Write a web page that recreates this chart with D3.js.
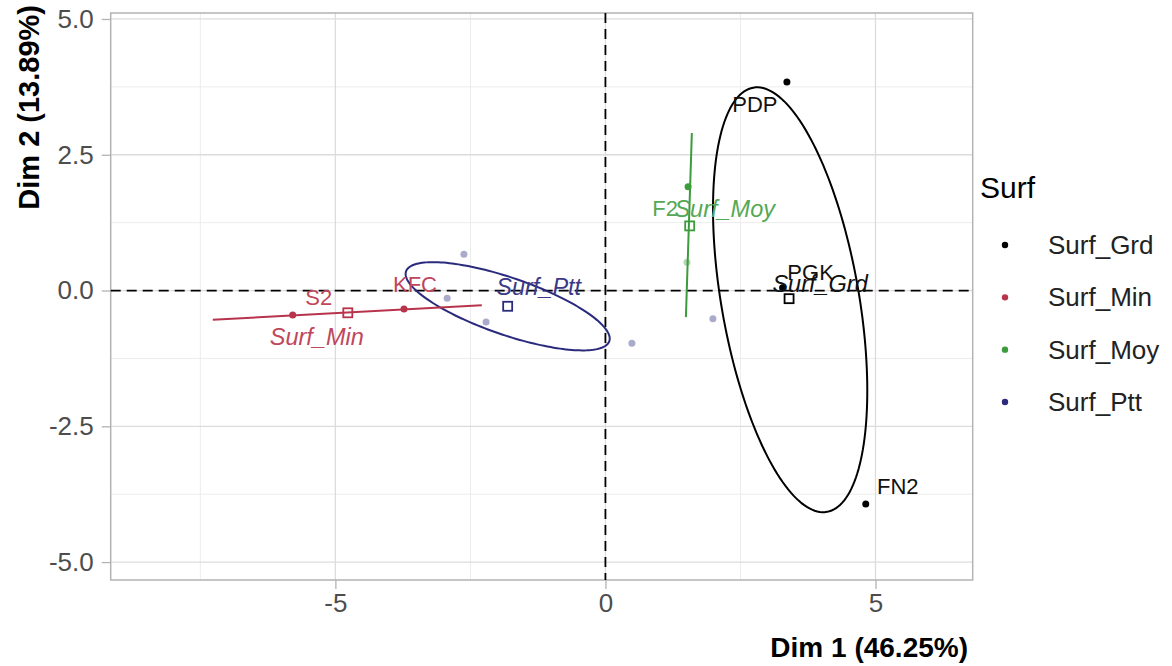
<!DOCTYPE html>
<html>
<head>
<meta charset="utf-8">
<script src="https://cdn.jsdelivr.net/npm/d3@7"></script>
<style>
  html, body { margin: 0; padding: 0; background: #ffffff; }
  svg { display: block; font-family: "Liberation Sans", Arial, sans-serif; }
</style>
</head>
<body>
<svg id="chart" width="1172" height="666"></svg>
<script>
// ---------------- DATA ----------------
const groups = ["Surf_Grd", "Surf_Min", "Surf_Moy", "Surf_Ptt"];

// individuals (Dim 1, Dim 2)
const indNames = ["PDP", "PGK", "FN2", "S2", "KFC", "F2", "", "", "", "", "", ""];
const indX = [3.36, 3.28, 4.82, -5.79, -3.73, 1.53, 1.51, -2.62, -2.93, -2.21, 0.49, 1.99];
const indY = [3.84, 0.05, -3.93, -0.45, -0.34, 1.91, 0.52, 0.67, -0.14, -0.58, -0.97, -0.52];
const indGroup = ["Surf_Grd", "Surf_Grd", "Surf_Grd", "Surf_Min", "Surf_Min", "Surf_Moy",
                  "Surf_Moy", "Surf_Ptt", "Surf_Ptt", "Surf_Ptt", "Surf_Ptt", "Surf_Ptt"];

// group barycentres
const meanX = [3.40, -4.77, 1.56, -1.81];
const meanY = [-0.15, -0.41, 1.19, -0.29];

// concentration ellipses: centre + covariance (xx, xy, yy)
const ellGroups = ["Surf_Grd", "Surf_Ptt"];
const ellCX = [3.42, -1.81];
const ellCY = [-0.17, -0.29];
const ellCov = [[2.04, -2.39, 15.3], [3.57, -1.125, 0.66]];

// degenerate ellipses (two-member groups) drawn as segments
const segGroups = ["Surf_Min", "Surf_Moy"];
const segX1 = [-7.27, 1.60], segY1 = [-0.54, 2.90];
const segX2 = [-2.29, 1.49], segY2 = [-0.27, -0.49];

// axes
const xTicks = [-5, 0, 5];
const yTicks = [-5, -2.5, 0, 2.5, 5];
const xMinor = [-7.5, -2.5, 2.5];
const yMinor = [-3.75, -1.25, 1.25, 3.75];
const xDomain = [-9.16, 6.80];
const yDomain = [-5.33, 5.11];
const xTitle = "Dim 1 (46.25%)";
const yTitle = "Dim 2 (13.89%)";
const legendTitle = "Surf";

// ---------------- STYLE ----------------
const colors = { Surf_Grd: "#000000", Surf_Min: "#b8334c", Surf_Moy: "#3c9c3c", Surf_Ptt: "#2b2b7e" };
const textColors = { Surf_Grd: "#111111", Surf_Min: "#c0465a", Surf_Moy: "#55a855", Surf_Ptt: "#3a3a88" };
// label offsets in px (like repelled text)
const indLabelOff = [[-32, 23], [28, -15], [32, -17], [26, -17], [11, -24], [-23, 22]];
const meanLabelOff = [[31, -15], [-31, 24], [35, -17], [31, -19]];

const svg = d3.select("#chart");
const P = { left: 110.7, right: 972.7, top: 13, bottom: 580 };

const x = d3.scaleLinear().domain(xDomain).range([P.left, P.right]);
const y = d3.scaleLinear().domain(yDomain).range([P.bottom, P.top]);

svg.append("rect").attr("width", 1172).attr("height", 666).attr("fill", "#ffffff");

// grid
const grid = svg.append("g");
grid.selectAll(".xm").data(xMinor).join("line")
  .attr("x1", d => x(d)).attr("x2", d => x(d)).attr("y1", P.top).attr("y2", P.bottom)
  .attr("stroke", "#ececec").attr("stroke-width", 1);
grid.selectAll(".ym").data(yMinor).join("line")
  .attr("y1", d => y(d)).attr("y2", d => y(d)).attr("x1", P.left).attr("x2", P.right)
  .attr("stroke", "#ececec").attr("stroke-width", 1);
grid.selectAll(".xM").data(xTicks).join("line")
  .attr("x1", d => x(d)).attr("x2", d => x(d)).attr("y1", P.top).attr("y2", P.bottom)
  .attr("stroke", "#dcdcdc").attr("stroke-width", 1.3);
grid.selectAll(".yM").data(yTicks).join("line")
  .attr("y1", d => y(d)).attr("y2", d => y(d)).attr("x1", P.left).attr("x2", P.right)
  .attr("stroke", "#dcdcdc").attr("stroke-width", 1.3);

// axes (plain hyphen for negatives, as in the reference)
const hy = f => d => f(d).replace("\u2212", "-");
const xAxis = d3.axisBottom(x).tickValues(xTicks).tickFormat(hy(d3.format("d"))).tickSize(9).tickPadding(5);
const yAxis = d3.axisLeft(y).tickValues(yTicks).tickFormat(hy(d3.format(".1f"))).tickSize(9).tickPadding(8);
const gx = svg.append("g").attr("transform", `translate(0,${P.bottom})`).call(xAxis);
const gy = svg.append("g").attr("transform", `translate(${P.left},0)`).call(yAxis);
[gx, gy].forEach(g => {
  g.select(".domain").remove();
  g.selectAll(".tick line").attr("stroke", "#b3b3b3").attr("stroke-width", 1.3);
  g.selectAll(".tick text").attr("fill", "#4d4d4d").attr("font-size", 26)
    .attr("font-family", "Liberation Sans, Arial, sans-serif");
});

// panel border
svg.append("rect").attr("x", P.left).attr("y", P.top)
  .attr("width", P.right - P.left).attr("height", P.bottom - P.top)
  .attr("fill", "none").attr("stroke", "#b3b3b3").attr("stroke-width", 1.5);

// dashed origin lines
svg.append("line").attr("x1", x(0)).attr("x2", x(0)).attr("y1", P.top).attr("y2", P.bottom)
  .attr("stroke", "#000").attr("stroke-width", 1.8).attr("stroke-dasharray", "10,6");
svg.append("line").attr("y1", y(0)).attr("y2", y(0)).attr("x1", P.left).attr("x2", P.right)
  .attr("stroke", "#000").attr("stroke-width", 1.8).attr("stroke-dasharray", "10,6");

// ellipses
const ellLine = d3.line().x(d => x(d[0])).y(d => y(d[1])).curve(d3.curveLinearClosed);
ellGroups.forEach((g, i) => {
  const [sxx, sxy, syy] = ellCov[i];
  const tr = (sxx + syy) / 2, df = Math.sqrt(((sxx - syy) / 2) ** 2 + sxy * sxy);
  const l1 = tr + df, l2 = Math.max(tr - df, 0);
  const th = 0.5 * Math.atan2(2 * sxy, sxx - syy);
  const pts = d3.range(0, 2 * Math.PI, Math.PI / 90).map(t => {
    const u = Math.sqrt(l1) * Math.cos(t), v = Math.sqrt(l2) * Math.sin(t);
    return [ellCX[i] + u * Math.cos(th) - v * Math.sin(th), ellCY[i] + u * Math.sin(th) + v * Math.cos(th)];
  });
  svg.append("path").attr("d", ellLine(pts)).attr("fill", "none")
    .attr("stroke", colors[g]).attr("stroke-width", 2);
});
segGroups.forEach((g, i) => {
  svg.append("line").attr("x1", x(segX1[i])).attr("y1", y(segY1[i]))
    .attr("x2", x(segX2[i])).attr("y2", y(segY2[i]))
    .attr("stroke", colors[g]).attr("stroke-width", 2);
});

// individuals
const inds = indX.map((v, i) => ({ name: indNames[i], x: v, y: indY[i], g: indGroup[i] }));
svg.append("g").selectAll("circle").data(inds).join("circle")
  .attr("cx", d => x(d.x)).attr("cy", d => y(d.y)).attr("r", 3.5)
  .attr("fill", d => colors[d.g]).attr("opacity", d => d.name ? 1 : 0.4);

// group means (open squares)
svg.append("g").selectAll("rect").data(groups).join("rect")
  .attr("x", (g, i) => x(meanX[i]) - 4.5).attr("y", (g, i) => y(meanY[i]) - 4.5)
  .attr("width", 9).attr("height", 9).attr("fill", "none")
  .attr("stroke", g => colors[g]).attr("stroke-width", 1.8);

// individual labels
svg.append("g").selectAll("text").data(inds.filter(d => d.name)).join("text")
  .attr("x", (d, i) => x(d.x) + indLabelOff[i][0])
  .attr("y", (d, i) => y(d.y) + indLabelOff[i][1])
  .attr("text-anchor", "middle").attr("dominant-baseline", "central")
  .attr("font-size", 22).attr("fill", d => textColors[d.g]).text(d => d.name);

// mean labels
svg.append("g").selectAll("text").data(groups).join("text")
  .attr("x", (g, i) => x(meanX[i]) + meanLabelOff[i][0])
  .attr("y", (g, i) => y(meanY[i]) + meanLabelOff[i][1])
  .attr("text-anchor", "middle").attr("dominant-baseline", "central")
  .attr("font-size", 23.5).attr("font-style", "italic")
  .attr("fill", g => textColors[g]).text(g => g);

// axis titles
svg.append("text").attr("x", 968).attr("y", 657).attr("text-anchor", "end")
  .attr("font-size", 28).attr("font-weight", "bold").attr("fill", "#000").text(xTitle);
svg.append("text").attr("transform", "translate(39,5) rotate(-90)").attr("text-anchor", "end")
  .attr("font-size", 29).attr("font-weight", "bold").attr("fill", "#000").text(yTitle);

// legend
const lg = svg.append("g");
lg.append("text").attr("x", 980).attr("y", 187).attr("dominant-baseline", "central")
  .attr("font-size", 30).attr("fill", "#000").text(legendTitle);
const ly = d3.scalePoint().domain(groups).range([245, 402]);
lg.selectAll("circle").data(groups).join("circle")
  .attr("cx", 1005).attr("cy", g => ly(g)).attr("r", 3.2).attr("fill", g => colors[g]);
lg.selectAll(".lt").data(groups).join("text")
  .attr("x", 1048).attr("y", g => ly(g)).attr("dominant-baseline", "central")
  .attr("font-size", 26).attr("fill", "#222").text(g => g);
</script>
</body>
</html>
